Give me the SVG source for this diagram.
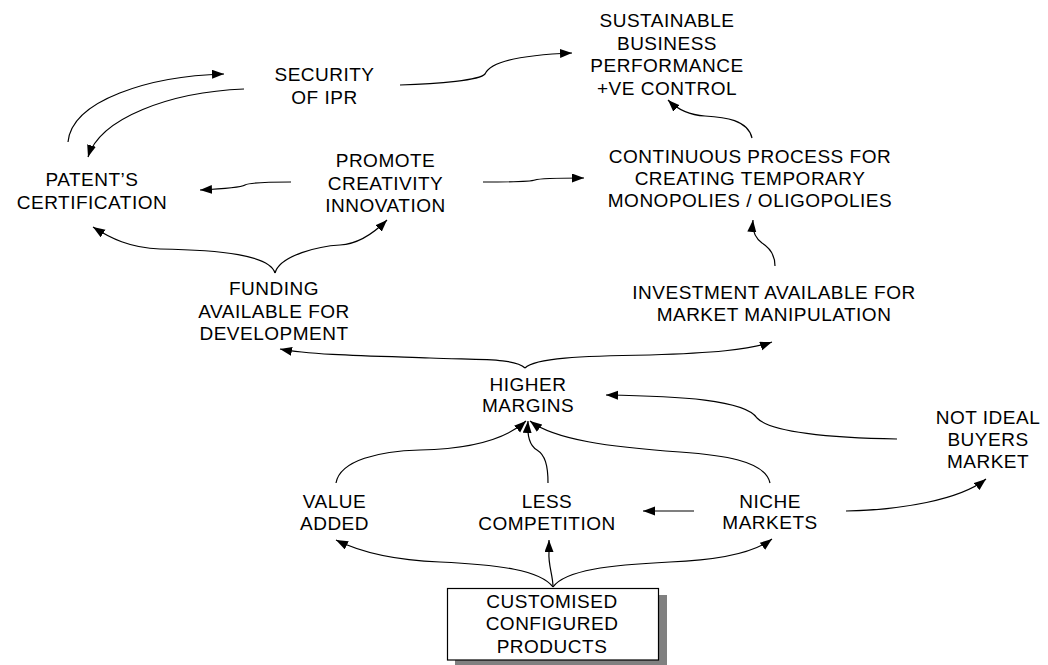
<svg xmlns="http://www.w3.org/2000/svg" width="1048" height="665" viewBox="0 0 1048 665">
<style>
text{font-family:"Liberation Sans",Arial,sans-serif;font-size:19px;letter-spacing:0.5px;fill:#000;text-anchor:middle}
.c{fill:none;stroke:#000;stroke-width:1.2}
</style>
<defs>
<marker id="ah" markerUnits="userSpaceOnUse" markerWidth="14" markerHeight="10" refX="12" refY="4.5" orient="auto">
<path d="M0,0 L12,4.5 L0,9 z" fill="#000"/>
</marker>
</defs>
<rect width="1048" height="665" fill="#fff"/>
<g id="connectors">
<path class="c" marker-end="url(#ah)" d="M68,142 C72,100 150,76 224,74"/>
<path class="c" marker-end="url(#ah)" d="M244,89 C170,92 100,118 88,157"/>
<path class="c" marker-end="url(#ah)" d="M400,85 C440,84 480,80 485,74 C490,62 520,55 572,53"/>
<path class="c" marker-end="url(#ah)" d="M752,138 C748,120 725,117 705,116 C688,115 676,108 668,100"/>
<path class="c" marker-end="url(#ah)" d="M291,182 C270,182 250,182 245,185 C240,188 220,189 200,190"/>
<path class="c" marker-end="url(#ah)" d="M483,182 C510,182 530,182 535,180 C540,178 560,178 584,178"/>
<path class="c" marker-end="url(#ah)" d="M275,273 C270,255 220,250 160,249 C130,248 110,238 93,227"/>
<path class="c" marker-end="url(#ah)" d="M275,273 C280,255 320,246 340,245 C360,244 375,232 387,220"/>
<path class="c" marker-end="url(#ah)" d="M525,368 C515,358 480,360 430,358 C370,356 310,355 280,349"/>
<path class="c" marker-end="url(#ah)" d="M525,368 C535,358 580,356 650,355 C710,353 750,350 772,342"/>
<path class="c" marker-end="url(#ah)" d="M775,266 C775,255 770,248 762,243 C755,238 752,230 753,220"/>
<path class="c" marker-end="url(#ah)" d="M897,439 C830,438 770,432 757,418 C745,400 680,396 606,395"/>
<path class="c" marker-end="url(#ah)" d="M846,511 C900,510 960,500 986,479"/>
<path class="c" marker-end="url(#ah)" d="M694,511 L643,511"/>
<path class="c" marker-end="url(#ah)" d="M336,483 C340,460 380,451 420,450 C470,449 505,440 526,421"/>
<path class="c" marker-end="url(#ah)" d="M548,483 C548,465 545,455 537,450 C530,446 527,435 528,421"/>
<path class="c" marker-end="url(#ah)" d="M770,483 C765,460 720,455 680,452 C610,447 555,440 530,421"/>
<path class="c" marker-end="url(#ah)" d="M553,587 C540,570 500,565 440,562 C390,560 360,552 336,540"/>
<path class="c" marker-end="url(#ah)" d="M553,587 C553,575 548,565 549,552 L549,540"/>
<path class="c" marker-end="url(#ah)" d="M553,587 C565,570 610,565 670,562 C720,560 755,552 772,539"/>
</g>
<g id="sustainable">
<text x="667" y="27">SUSTAINABLE</text>
<text x="667" y="49.5">BUSINESS</text>
<text x="667" y="72">PERFORMANCE</text>
<text x="667" y="94.5">+VE CONTROL</text>
</g>
<g id="security">
<text x="324.5" y="81">SECURITY</text>
<text x="324.5" y="104">OF IPR</text>
</g>
<g id="patents">
<text x="92" y="186">PATENT’S</text>
<text x="92" y="208.5">CERTIFICATION</text>
</g>
<g id="promote">
<text x="385.5" y="167">PROMOTE</text>
<text x="385.5" y="189.5">CREATIVITY</text>
<text x="385.5" y="211.5">INNOVATION</text>
</g>
<g id="continuous">
<text x="750" y="163">CONTINUOUS PROCESS FOR</text>
<text x="750" y="185">CREATING TEMPORARY</text>
<text x="750" y="207">MONOPOLIES / OLIGOPOLIES</text>
</g>
<g id="funding">
<text x="274" y="295">FUNDING</text>
<text x="274" y="317.5">AVAILABLE FOR</text>
<text x="274" y="340">DEVELOPMENT</text>
</g>
<g id="investment">
<text x="774" y="298.5">INVESTMENT AVAILABLE FOR</text>
<text x="774" y="321">MARKET MANIPULATION</text>
</g>
<g id="higher">
<text x="528" y="391">HIGHER</text>
<text x="528" y="412">MARGINS</text>
</g>
<g id="notideal">
<text x="988" y="424">NOT IDEAL</text>
<text x="988" y="446">BUYERS</text>
<text x="988" y="467.5">MARKET</text>
</g>
<g id="value">
<text x="334.5" y="507.5">VALUE</text>
<text x="334.5" y="530">ADDED</text>
</g>
<g id="less">
<text x="547" y="507.5">LESS</text>
<text x="547" y="530">COMPETITION</text>
</g>
<g id="niche">
<text x="770" y="507.5">NICHE</text>
<text x="770" y="529">MARKETS</text>
</g>
<g id="customised">
<rect x="455" y="595" width="212" height="72" fill="#808080"/>
<rect x="447.5" y="588.5" width="211" height="71.5" fill="#fff" stroke="#000" stroke-width="1.2"/>
<text x="552" y="607.5">CUSTOMISED</text>
<text x="552" y="630">CONFIGURED</text>
<text x="552" y="652.5">PRODUCTS</text>
</g>
</svg>
